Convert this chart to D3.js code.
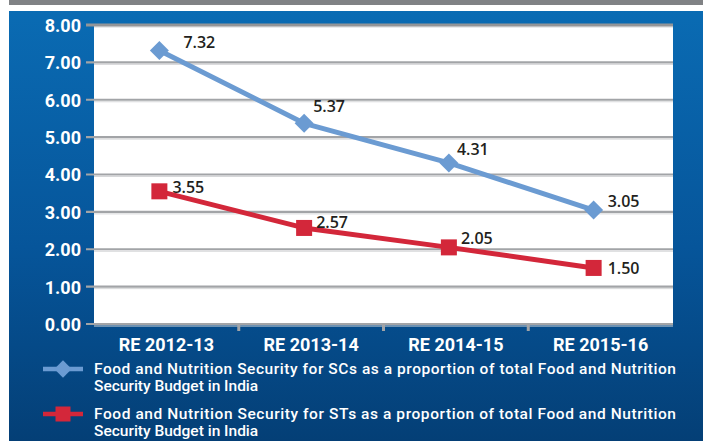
<!DOCTYPE html>
<html>
<head>
<meta charset="utf-8">
<script src="https://cdn.jsdelivr.net/npm/d3@7/dist/d3.min.js"></script>
<style>
  html, body { margin: 0; padding: 0; background: #ffffff; }
  svg { display: block; }
</style>
</head>
<body>
<svg id="chart" width="703" height="441"></svg>
<script>
// Budget years on the category axis
const categories = ["RE 2012-13", "RE 2013-14", "RE 2014-15", "RE 2015-16"];

// Share of the total Food and Nutrition Security budget (%)
const scValues = [7.32, 5.37, 4.31, 3.05];
const stValues = [3.55, 2.57, 2.05, 1.50];

const yTicks = [0, 1, 2, 3, 4, 5, 6, 7, 8];

const seriesNames = [
  "Food and Nutrition Security for SCs as a proportion of total Food and Nutrition Security Budget in India",
  "Food and Nutrition Security for STs as a proportion of total Food and Nutrition Security Budget in India"
];

// Small per-label nudges (px) so value labels sit clear of the lines
const scLabelNudge = [[24, -8], [9, -17], [8, -14], [14, -9]];
const stLabelNudge = [[13, -4], [12, -6], [12, -9], [14, 0]];

const W = 703, H = 441;
const plot = { left: 94, right: 673, top: 25, bottom: 324 };
const blue = "#6b9bd2", red = "#d3273a";

const svg = d3.select("#chart");
const defs = svg.append("defs");
const grad = defs.append("linearGradient")
  .attr("id", "bg").attr("x1", 0).attr("y1", 0).attr("x2", 0).attr("y2", 1);
grad.append("stop").attr("offset", "0%").attr("stop-color", "#0a6bb3");
grad.append("stop").attr("offset", "55%").attr("stop-color", "#06559a");
grad.append("stop").attr("offset", "100%").attr("stop-color", "#043f76");

// Page furniture: grey band on top, blue panel behind the chart
svg.append("rect").attr("x", 9).attr("y", 0).attr("width", W - 9).attr("height", 5).attr("fill", "#808285");
svg.append("rect").attr("x", 9).attr("y", 11).attr("width", W - 9).attr("height", H - 11).attr("fill", "url(#bg)");

// Plot area
svg.append("rect")
  .attr("x", plot.left).attr("y", plot.top)
  .attr("width", plot.right - plot.left).attr("height", plot.bottom - plot.top)
  .attr("fill", "#ffffff");

const x = d3.scaleBand().domain(categories).range([plot.left, plot.right]).padding(0);
const y = d3.scaleLinear().domain([0, 8]).range([plot.bottom, plot.top]);
const markerShift = -7;
const px = d => x(d) + x.bandwidth() / 2 + markerShift;

// Gridlines (with a soft highlight under each)
const grid = svg.append("g");
grid.selectAll("line.hl").data(yTicks).join("line")
  .attr("class", "hl")
  .attr("x1", plot.left).attr("x2", plot.right)
  .attr("y1", d => y(d) + 2).attr("y2", d => y(d) + 2)
  .attr("stroke", "#d6d7d9").attr("stroke-width", 1);
grid.selectAll("line.g").data(yTicks).join("line")
  .attr("class", "g")
  .attr("x1", 86).attr("x2", plot.right)
  .attr("y1", d => y(d)).attr("y2", d => y(d))
  .attr("stroke", d => d === 8 ? "#939598" : "#a2a4a7")
  .attr("stroke-width", d => d === 8 ? 3 : 2.2);

// Y axis labels
const yAxis = d3.axisLeft(y).tickValues(yTicks).tickFormat(d3.format(".2f")).tickSize(0).tickPadding(0);
const yG = svg.append("g").attr("transform", `translate(81,0)`).call(yAxis);
yG.select(".domain").remove();
yG.selectAll("text")
  .attr("fill", "#ffffff")
  .attr("font-family", "Roboto, 'Liberation Sans', sans-serif")
  .attr("font-weight", 700)
  .attr("font-size", 18)
  .attr("dy", "0.36em");

// X axis: baseline, tick marks between categories, labels
const xAxis = d3.axisBottom(x).tickSize(0).tickPadding(0);
const xG = svg.append("g").attr("transform", `translate(0,${plot.bottom})`).call(xAxis);
xG.select(".domain").remove();
xG.selectAll("text")
  .attr("fill", "#ffffff")
  .attr("font-family", "Roboto, 'Liberation Sans', sans-serif")
  .attr("font-weight", 700)
  .attr("font-size", 18)
  .attr("y", 21)
  .attr("dy", "0.36em");
svg.append("line")
  .attr("x1", 86).attr("x2", plot.right)
  .attr("y1", plot.bottom).attr("y2", plot.bottom)
  .attr("stroke", "#a2a4a7").attr("stroke-width", 2.2);
svg.append("g").selectAll("line").data(categories.slice(1)).join("line")
  .attr("x1", d => x(d)).attr("x2", d => x(d))
  .attr("y1", plot.bottom).attr("y2", plot.bottom + 7)
  .attr("stroke", "#a2a4a7").attr("stroke-width", 3);

// Series
const series = [
  { values: scValues, color: blue, shape: "diamond", nudge: scLabelNudge },
  { values: stValues, color: red, shape: "square", nudge: stLabelNudge }
];

const line = d3.line().x((d, i) => px(categories[i])).y(d => y(d));

series.forEach(s => {
  svg.append("path")
    .attr("d", line(s.values))
    .attr("fill", "none")
    .attr("stroke", s.color)
    .attr("stroke-width", 5)
    .attr("stroke-linejoin", "round");
});

const diamond = d3.symbol().type(d3.symbolSquare).size(180);
series.forEach(s => {
  const g = svg.append("g");
  s.values.forEach((v, i) => {
    const cx = px(categories[i]), cy = y(v);
    if (s.shape === "diamond") {
      g.append("path")
        .attr("d", diamond())
        .attr("transform", `translate(${cx},${cy}) rotate(45)`)
        .attr("fill", s.color);
    } else {
      g.append("rect")
        .attr("x", cx - 8).attr("y", cy - 8)
        .attr("width", 16).attr("height", 16)
        .attr("fill", s.color);
    }
  });
});

// Value labels
series.forEach(s => {
  svg.append("g").selectAll("text").data(s.values).join("text")
    .attr("x", (d, i) => px(categories[i]) + s.nudge[i][0])
    .attr("y", (d, i) => y(d) + s.nudge[i][1])
    .attr("dy", "0.36em")
    .attr("fill", "#231f20")
    .attr("font-family", "'Open Sans', sans-serif")
    .attr("font-weight", 600)
    .attr("font-size", 16)
    .text(d => d3.format(".2f")(d));
});

// Legend
const legendTop = [368, 413];
const legendTextWidth = 582;
const legend = svg.append("g");
series.forEach((s, k) => {
  const ly = legendTop[k];
  legend.append("line")
    .attr("x1", 43).attr("x2", 83).attr("y1", ly + 1).attr("y2", ly + 1)
    .attr("stroke", s.color).attr("stroke-width", 4.5);
  if (s.shape === "diamond") {
    legend.append("path").attr("d", d3.symbol().type(d3.symbolSquare).size(150)())
      .attr("transform", `translate(63,${ly + 1}) rotate(45)`).attr("fill", s.color);
  } else {
    legend.append("rect").attr("x", 55.5).attr("y", ly + 1 - 7.5).attr("width", 15).attr("height", 15).attr("fill", s.color);
  }
  const style = t => t
    .attr("fill", "#ffffff")
    .attr("font-family", "Roboto, 'Open Sans', sans-serif")
    .attr("font-weight", 500)
    .attr("font-size", 15.5);
  // two lines, the first one running up to "Nutrition"
  const words = seriesNames[k].split(" ");
  const cut = words.lastIndexOf("Nutrition") + 1;
  const lines = [words.slice(0, cut).join(" "), words.slice(cut).join(" ")];
  lines.forEach((txt, j) => {
    const t = legend.append("text")
      .attr("x", 94).attr("y", ly + j * 17)
      .attr("dy", "0.36em")
      .text(txt)
      .call(style);
    if (j === 0) t.attr("textLength", legendTextWidth).attr("lengthAdjust", "spacing");
  });
});
</script>
</body>
</html>
